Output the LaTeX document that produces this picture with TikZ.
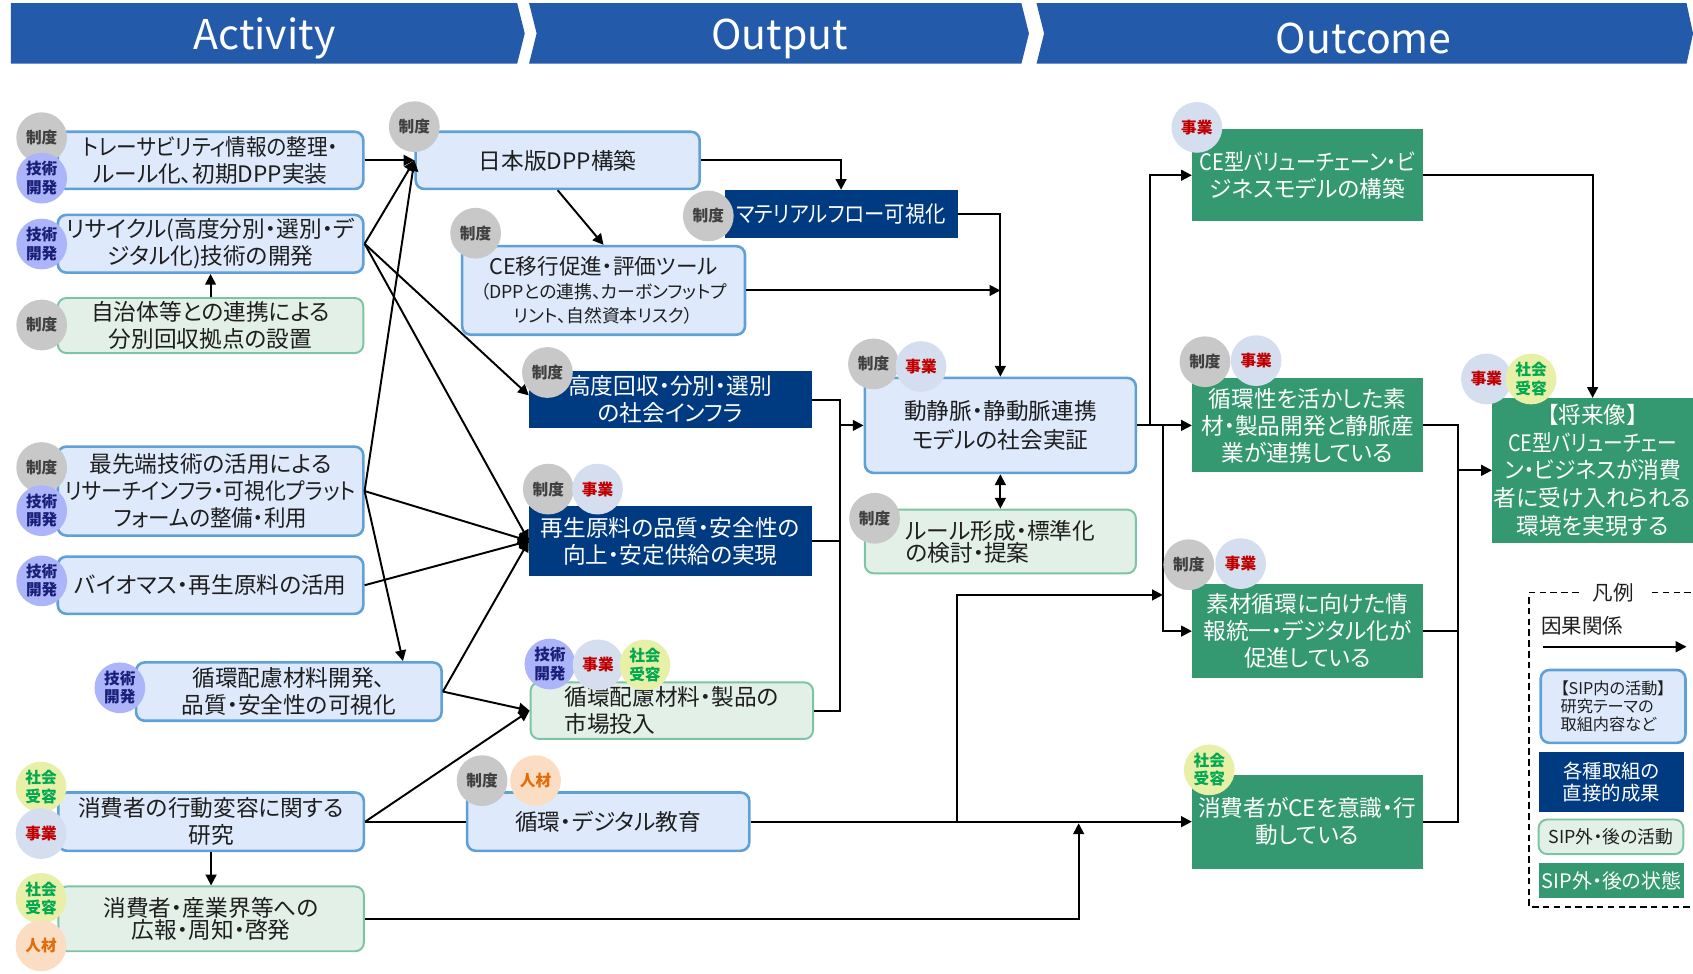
\documentclass[tikz,border=0pt]{standalone}
\usepackage{fontspec}
\usepackage{graphicx}
\setmainfont{Noto Sans CJK JP}[RawFeature={+palt}]
\usetikzlibrary{arrows.meta,calc}
\newcommand\hsq[2]{\scalebox{#1}[1]{#2}}
\definecolor{hdr}{RGB}{35,91,170}
\definecolor{sipfill}{RGB}{222,234,252}
\definecolor{sipline}{RGB}{95,160,215}
\definecolor{navyc}{RGB}{0,58,128}
\definecolor{extfill}{RGB}{226,240,232}
\definecolor{extline}{RGB}{125,195,165}
\definecolor{outc}{RGB}{52,153,112}
\definecolor{bgray}{RGB}{200,200,200}
\definecolor{bgtxt}{RGB}{64,64,64}
\definecolor{btech}{RGB}{173,181,250}
\definecolor{btechtxt}{RGB}{25,30,120}
\definecolor{bjig}{RGB}{213,222,238}
\definecolor{bjigtxt}{RGB}{192,0,0}
\definecolor{bsha}{RGB}{232,240,168}
\definecolor{bshatxt}{RGB}{0,168,80}
\definecolor{bjin}{RGB}{251,221,195}
\definecolor{bjintxt}{RGB}{227,108,9}
\definecolor{txt}{RGB}{30,30,30}
\begin{document}
\begin{tikzpicture}[x=1pt,y=-1pt,
  sz/.style 2 args={minimum width=#1pt,minimum height=#2pt},
  fmain/.style={font=\fontsize{21}{25}\selectfont},
  sipbox/.style={draw=sipline,fill=sipfill,line width=2.4pt,rounded corners=8pt,inner sep=0pt,align=center,text=txt,fmain},
  navybox/.style={fill=navyc,inner sep=0pt,align=center,text=white,fmain},
  extbox/.style={draw=extline,fill=extfill,line width=1.8pt,rounded corners=8pt,inner sep=0pt,align=center,text=txt,fmain},
  outbox/.style={fill=outc,inner sep=0pt,align=center,text=white,fmain},
  badge/.style={circle,minimum size=47pt,inner sep=0pt,align=center,font=\fontsize{14.5}{17}\selectfont\bfseries},
  seido/.style={badge,fill=bgray,text=bgtxt},
  gijutsu/.style={badge,fill=btech,text=btechtxt},
  jigyo/.style={badge,fill=bjig,text=bjigtxt},
  shakai/.style={badge,fill=bsha,text=bshatxt},
  jinzai/.style={badge,fill=bjin,text=bjintxt},
  ln/.style={line width=1.8pt,draw=black},
  arr/.style={ln,-{Triangle[length=10pt,width=10pt]}},
  darr/.style={ln,{Triangle[length=10pt,width=10pt]}-{Triangle[length=10pt,width=10pt]}},
  hdrtxt/.style={text=white,font=\fontsize{38}{40}\selectfont}
]
\useasboundingbox (0,0) rectangle (1568,902);

% header chevrons
\fill[hdr] (10,3) -- (479,3) -- (486,31) -- (479,59) -- (10,59) -- cycle;
\fill[hdr] (490,3) -- (946,3) -- (953,31) -- (946,59) -- (490,59) -- (497,31) -- cycle;
\fill[hdr] (960,3) -- (1562,3) -- (1568,31) -- (1562,59) -- (960,59) -- (967,31) -- cycle;
\node[hdrtxt] (h1) at (245,36) {Activity};
\node[hdrtxt] (h2) at (722,36) {Output};
\node[hdrtxt] (h3) at (1263,36) {Outcome};

% Activity boxes
\node[sipbox,sz={283}{53}] (a1) at (195,148.5) {\hsq{0.91}{トレーサビリティ情報の整理・}\\ルール化、初期DPP実装};
\node[sipbox,sz={283}{53.5}] (a2) at (195,225.75) {リサイクル(高度分別・選別・デ\\ジタル化)技術の開発};
\node[extbox,sz={283}{51}] (a3) at (195,301.5) {自治体等との連携による\\分別回収拠点の設置};
\node[sipbox,sz={283}{82.4}] (a4) at (195,454.8) {最先端技術の活用による\\\hsq{0.92}{リサーチインフラ・可視化プラット}\\\hsq{0.95}{フォームの整備・利用}};
\node[sipbox,sz={283}{53}] (a5) at (195,542) {バイオマス・再生原料の活用};
\node[sipbox,sz={283}{54}] (a6) at (267.5,640.5) {循環配慮材料開発、\\品質・安全性の可視化};
\node[sipbox,sz={283}{54}] (a7) at (195.5,761) {消費者の行動変容に関する\\研究};
\node[extbox,sz={283}{60},font=\fontsize{21}{20.5}\selectfont] (a8) at (195.5,851) {消費者・産業界等への\\広報・周知・啓発};

% Output boxes
\node[sipbox,sz={263}{53}] (b1) at (516.5,148.5) {日本版DPP構築};
\node[navybox,sz={216}{44}] (b2) at (779,198) {\hsq{0.9}{マテリアルフロー可視化}};
\node[sipbox,sz={262}{82},font=\fontsize{16.5}{22.5}\selectfont] (b3) at (559,269) {\fontsize{20}{24}\selectfont CE移行促進・評価ツール\\\fontsize{16.5}{22.5}\selectfont （DPPとの連携、カーボンフットプ\\\fontsize{16.5}{22.5}\selectfont リント、自然資本リスク）};
\node[navybox,sz={261.6}{52.5}] (b4) at (620.8,370.25) {高度回収・分別・選別\\の社会インフラ};
\node[navybox,sz={261.6}{64.8}] (b5) at (620.8,501) {再生原料の品質・安全性の\\向上・安定供給の実現};
\node[extbox,sz={261.6}{52.4},align=left] (b6) at (622.2,658.2) {循環配慮材料・製品の\\市場投入};
\node[sipbox,sz={261.4}{54}] (b7) at (563.3,761) {循環・デジタル教育};

% middle
\node[sipbox,sz={251}{88},font=\fontsize{21}{27}\selectfont] (c1) at (926.5,394) {動静脈・静動脈連携\\モデルの社会実証};
\node[extbox,sz={251}{59},align=left,font=\fontsize{21}{19}\selectfont] (c2) at (926.5,501.5) {ルール形成・標準化\\の検討・提案};

% Outcome boxes
\node[outbox,sz={213.7}{85.4}] (d1) at (1210.9,162.3) {\hsq{0.88}{CE型バリューチェーン・ビ}\\ジネスモデルの構築};
\node[outbox,sz={213.7}{87}] (d2) at (1210.9,394) {循環性を活かした素\\材・製品開発と静脈産\\業が連携している};
\node[outbox,sz={213.7}{87}] (d3) at (1210.9,584.5) {素材循環に向けた情\\報統一・デジタル化が\\促進している};
\node[outbox,sz={213.7}{87}] (d4) at (1210.9,761) {消費者がCEを意識・行\\動している};
\node[outbox,sz={186}{133.8},font=\fontsize{21}{25.8}\selectfont] (d5) at (1475,435.6) {【将来像】\\\hsq{0.87}{CE型バリューチェー}\\\hsq{0.96}{ン・ビジネスが消費}\\者に受け入れられる\\環境を実現する};

% Legend
\draw[line width=1.3pt,dash pattern=on 6pt off 4pt] (1462,549) -- (1416,549) -- (1416,840) -- (1572,840) -- (1572,549) -- (1527,549);
\node[font=\fontsize{19}{22}\selectfont,text=txt] (lgt) at (1494,549) {凡例};
\node[anchor=west,font=\fontsize{19}{22}\selectfont,text=txt] (lgc) at (1424,580) {因果関係};
\coordinate (lg1) at (1429,599);
\coordinate (lg2) at (1562,599);
\draw[arr] (lg1) -- (lg2);
\node[sipbox,sz={134}{67.5},align=left,font=\fontsize{15}{16.5}\selectfont] (l1) at (1494,654.25) {【SIP内の活動】\\研究テーマの\\取組内容など};
\node[navybox,sz={135}{55},font=\fontsize{18}{20}\selectfont] (l2) at (1492.5,724.2) {各種取組の\\直接的成果};
\node[extbox,sz={134}{32},font=\fontsize{16.5}{20}\selectfont] (l3) at (1492,775) {SIP外・後の活動};
\node[outbox,sz={135}{32.7},font=\fontsize{18.5}{20}\selectfont] (l4) at (1492.5,815.4) {SIP外・後の状態};

% connectors
\draw[arr] (a1.east) -- (b1.west);
\draw[arr] (a2.east) -- (b1.west);
\draw[arr] (a2.east) -- ([yshift=4pt]b4.west);
\draw[arr] (a2.east) -- (b5.west);
\draw[arr] (a4.east) -- (b1.west);
\draw[arr] (a4.east) -- (b5.west);
\draw[arr] (a4.east) -- ([xshift=-37pt]a6.north east);
\draw[arr] (a5.east) -- (b5.west);
\draw[arr] (a6.east) -- (b5.west);
\draw[arr] (a6.east) -- (b6.west);
\draw[arr] (a7.east) -- (b6.west);
\draw[ln] (a7.east) -- (b7.west);
\draw[arr] (a3.north) -- (a2.south);
\draw[arr] (a7.south) -- (a8.north);
\coordinate (j1) at (999,762.5);
\draw[arr] (a8.east) -| (j1);

\draw[arr] (b1.east) -| (b2.north);
\draw[arr] (b1.south) -- (b3.north);
\draw[arr] (b2.east) -| (c1.north);
\draw[arr] (b3.east) -- (b3.east -| c1.north);
\coordinate (bus1) at (778,394);
\draw[ln] (b4.east) -| (bus1);
\draw[ln] (b5.east) -| (bus1);
\draw[ln] (b6.east) -| (bus1);
\draw[arr] (bus1) -- (c1.west);
\draw[darr] (c1.south) -- (c2.north);

\coordinate (sp1) at (1065,394);
\coordinate (sp2) at (1077,394);
\draw[arr] (c1.east) -- (d2.west);
\draw[arr] (sp1) |- (d1.west);
\draw[arr] (sp2) |- (d3.west);
\draw[arr] (b7.east) -- (d4.west);
\coordinate (sp3) at (886,761);
\coordinate (j2) at (1077,551);
\draw[arr] (sp3) |- (j2);

\draw[arr] (d1.east) -| (d5.north);
\coordinate (bus2) at (1350,435.6);
\draw[ln] (d2.east) -| (bus2);
\draw[ln] (d3.east) -| (bus2);
\draw[ln] (d4.east) -| (bus2);
\draw[arr] (bus2) -- (d5.west);

% badges
\node[seido] (a1s) at (38.6,127.5) {制度};
\node[gijutsu] (a1g) at (38.6,165) {技術\\開発};
\node[gijutsu] (a2g) at (38.6,226) {技術\\開発};
\node[seido] (a3s) at (38.6,301) {制度};
\node[seido] (a4s) at (38.6,433) {制度};
\node[gijutsu] (a4g) at (38.6,473) {技術\\開発};
\node[gijutsu] (a5g) at (38.6,538) {技術\\開発};
\node[gijutsu] (a6g) at (111,637) {技術\\開発};
\node[shakai] (a7k) at (38,729) {社会\\受容};
\node[jigyo] (a7j) at (38,772) {事業};
\node[shakai] (a8k) at (38,832) {社会\\受容};
\node[jinzai] (a8n) at (38,876) {人材};

\node[seido] (b1s) at (383.7,117.3) {制度};
\node[seido] (b2s) at (656,200) {制度};
\node[seido] (b3s) at (440.5,216) {制度};
\node[seido] (b4s) at (507,345) {制度};
\node[seido] (b5s) at (507.8,453) {制度};
\node[jigyo] (b5j) at (553.4,453) {事業};
\node[gijutsu] (b6g) at (509.3,615) {技術\\開発};
\node[jigyo] (b6j) at (553.9,615.8) {事業};
\node[shakai] (b6k) at (597.3,615.8) {社会\\受容};
\node[seido] (b7s) at (446.5,723) {制度};
\node[jinzai] (b7n) at (496,723) {人材};

\node[seido] (c1s) at (809,337) {制度};
\node[jigyo] (c1j) at (853,339.5) {事業};
\node[seido] (c2s) at (810,480) {制度};

\node[jigyo] (d1j) at (1108.5,118) {事業};
\node[seido] (d2s) at (1116,335) {制度};
\node[jigyo] (d2j) at (1163.4,334) {事業};
\node[seido] (d3s) at (1101,523) {制度};
\node[jigyo] (d3j) at (1149,522) {事業};
\node[shakai] (d4k) at (1120,713) {社会\\受容};
\node[jigyo] (d5j) at (1376.7,351) {事業};
\node[shakai] (d5k) at (1418,351) {社会\\受容};
\end{tikzpicture}
\end{document}
